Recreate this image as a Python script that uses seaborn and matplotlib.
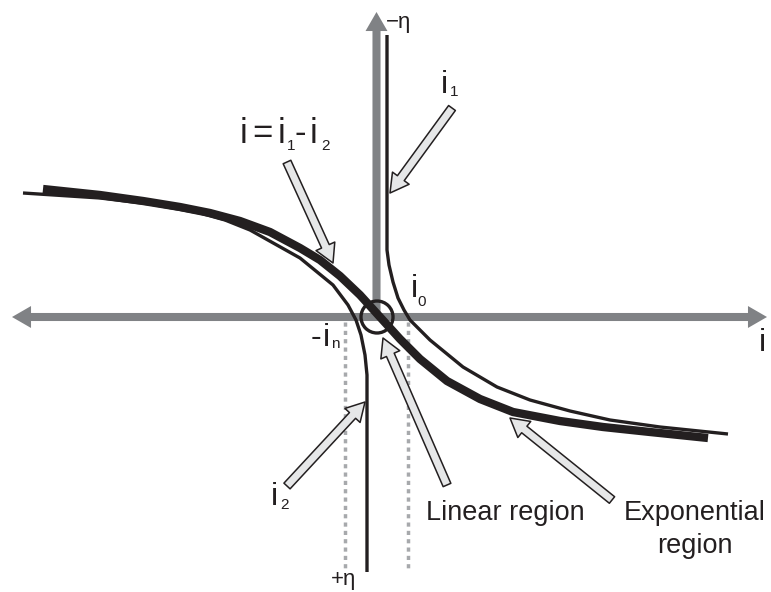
import matplotlib
matplotlib.use("Agg")
import matplotlib.pyplot as plt
import seaborn as sns
import numpy as np
import pandas as pd
from matplotlib.patches import Circle

# ------------------------
# Curve data (current i on x, -eta on y, arbitrary units)
# ------------------------
NET_I = [-334, -277, -234, -197, -167, -137, -107, -77, -57, -37, -17, 3,
         23, 43, 70, 103, 136, 183, 226, 273, 331]
NET_ETA = [128, 122, 116, 110, 104, 96, 85, 69, 57, 41, 22, 0,
           -22, -42, -64, -82, -95, -104, -110, -115, -121]

I1_I = [10, 10, 12, 16, 21, 27, 33, 53, 86, 120, 153, 193, 233, 283, 351]
I1_ETA = [282, 67, 52, 35, 19, 7, -3, -23, -50, -70, -83, -94, -103, -110, -117]

I2_I = [-354, -277, -227, -177, -152, -127, -77, -44, -29, -21, -16, -12, -10, -10, -10]
I2_ETA = [124, 119, 113, 104, 97, 87, 59, 32, 12, -3, -18, -38, -58, -83, -255]

# exchange current markers (dotted guides)
IN_MARK = -32
I0_MARK = 31
GUIDE_ETA = [-5, -253]

# callouts: (tail, tip)
CALLOUTS = {
    "i1": ((75, 209), (13, 124)),
    "net": ((-90, 155), (-44, 54)),
    "i2": ((-90, -169), (-12, -85)),
    "linear": ((70, -168), (6, -21)),
    "exp": ((235, -183), (133, -101)),
}

AXIS_GRAY = "#808285"
GUIDE_GRAY = "#a7a9ac"
CALLOUT_FILL = "#e6e7e8"
INK = "#231f20"

sns.set_theme(style="white")
plt.rcParams["font.family"] = ["Liberation Sans", "DejaVu Sans"]

fig = plt.figure(figsize=(7.71, 5.92), dpi=100)
ax = fig.add_axes([0, 0, 1, 1])

# ------------------------
# Axes arrows
# ------------------------
axis_style = "simple,head_length=1.37,head_width=1.58,tail_width=0.58"
for tip in [(390, 0), (-365, 0), (-0.5, 305), (-0.5, -278)]:
    start = (-0.5, 0) if tip[0] == -0.5 else (0, 0)
    ax.annotate("", xy=tip, xytext=start,
                arrowprops=dict(arrowstyle=axis_style, mutation_scale=10,
                                fc=AXIS_GRAY, ec="none", shrinkA=0, shrinkB=0),
                zorder=1)

# dotted guides
for xm in [IN_MARK, I0_MARK]:
    ax.plot([xm, xm], GUIDE_ETA, color=GUIDE_GRAY, lw=2.5,
            dashes=(1.2, 1.2), dash_capstyle="butt", zorder=1)

# ------------------------
# Curves
# ------------------------
df_net = pd.DataFrame({"i": NET_I, "eta": NET_ETA})
df_i1 = pd.DataFrame({"i": I1_I, "eta": I1_ETA})
df_i2 = pd.DataFrame({"i": I2_I, "eta": I2_ETA})

line_kw = dict(x="i", y="eta", sort=False, estimator=None, color=INK,
               ax=ax, solid_joinstyle="round", solid_capstyle="butt")
sns.lineplot(data=df_i1, lw=2.4, zorder=3, **line_kw)
sns.lineplot(data=df_i2, lw=2.4, zorder=3, **line_kw)
sns.lineplot(data=df_net, lw=6, zorder=4, **line_kw)

ax.set_xlim(-377, 394)
ax.set_ylim(-275, 317)
ax.set_axis_off()

# origin circle
ax.add_patch(Circle((0, 0), 16, fill=False, ec=INK, lw=2.4, zorder=5))

# ------------------------
# Callout arrows
# ------------------------
callout_style = "simple,head_length=1.2,head_width=1.35,tail_width=0.55"
for tail, tip in CALLOUTS.values():
    ax.annotate("", xy=tip, xytext=tail,
                arrowprops=dict(arrowstyle=callout_style, mutation_scale=11,
                                fc=CALLOUT_FILL, ec=INK, lw=1.1,
                                shrinkA=0, shrinkB=0, joinstyle="round"),
                zorder=6)

# ------------------------
# Labels
# ------------------------
big = 25
lab = 23
sub = 11
kw = dict(color=INK, va="baseline", ha="left", zorder=7)

# i = i1 - i2
ax.text(-137, 174, "i", fontsize=big, **kw)
ax.text(-115, 174, "=", fontsize=big, color=INK, va="baseline", ha="center", zorder=7)
ax.text(-99, 174, "i", fontsize=big, **kw)
ax.text(-90, 167, "1", fontsize=sub, **kw)
ax.text(-82, 174, "-", fontsize=big, **kw)
ax.text(-67, 174, "i", fontsize=big, **kw)
ax.text(-56, 167, "2", fontsize=sub, **kw)

# i1
ax.text(64, 224, "i", fontsize=lab, **kw)
ax.text(73, 221, "1", fontsize=sub, **kw)

# i0
ax.text(34, 20, "i", fontsize=lab, **kw)
ax.text(40, 11, "0", fontsize=sub, **kw)

# -in
ax.text(-66, -29, "-", fontsize=lab, **kw)
ax.text(-54, -29, "i", fontsize=lab, **kw)
ax.text(-46, -31, "n", fontsize=sub, **kw)

# i2
ax.text(-106, -188, "i", fontsize=lab, **kw)
ax.text(-97, -192, "2", fontsize=sub, **kw)

# axis labels
ax.text(9, 289, "\u2212\u03b7", fontsize=16, **kw)
ax.text(-46, -268, "+\u03b7", fontsize=16, **kw)
ax.text(382, -34, "i", fontsize=lab, **kw)

# region labels
ax.text(49, -203, "Linear region", fontsize=19.5, **kw)
ax.text(318, -203, "Exponential", fontsize=19.5, color=INK, va="baseline", ha="center", zorder=7)
ax.text(318, -236, "region", fontsize=19.5, color=INK, va="baseline", ha="center", zorder=7)

fig.savefig("out.png", dpi=100, facecolor="white")
